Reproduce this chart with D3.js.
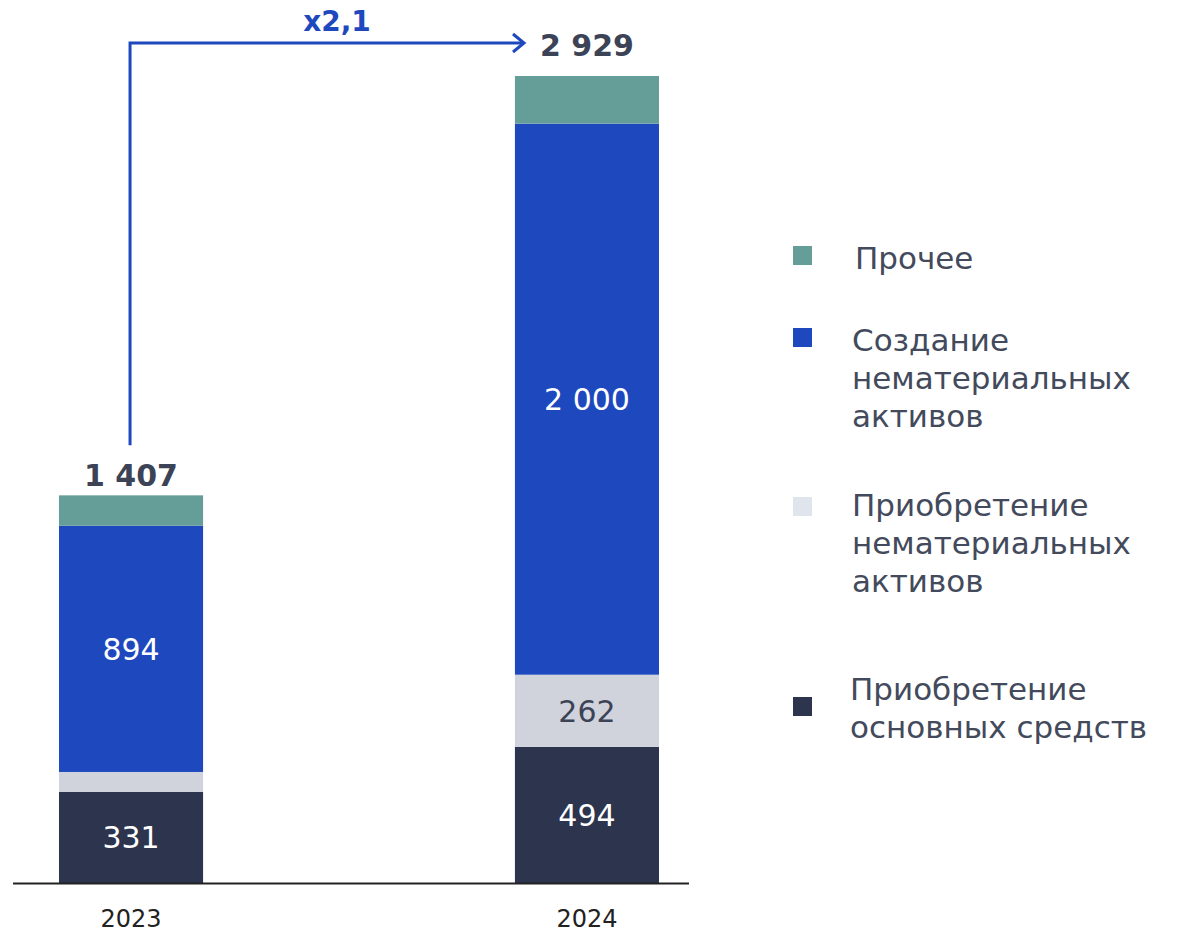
<!DOCTYPE html>
<html><head><meta charset="utf-8">
<script src="https://cdn.jsdelivr.net/npm/d3@7"></script>
<style>body{margin:0;background:#fff}svg{display:block}text{font-family:"DejaVu Sans",sans-serif}</style>
</head><body><svg id="c" width="1180" height="933"></svg>
<script>
const years = ["2023", "2024"];
const seriesNames = ["Приобретение основных средств", "Приобретение нематериальных активов", "Создание нематериальных активов", "Прочее"];
const fixedAssets = [331, 494];
const intangiblePurchase = [72, 262];
const intangibleCreation = [894, 2000];
const other = [110, 173];
const totals = [1407, 2929];
const shownLabels = [[true, true], [false, true], [true, true], [false, false]];
const growthLabel = "x2,1";
const legendLines = [["Прочее"], ["Создание", "нематериальных", "активов"], ["Приобретение", "нематериальных", "активов"], ["Приобретение", "основных средств"]];

const barColors = ["#2d344d", "#d0d3db", "#1e48be", "#659e99"];
const legendColors = ["#659e99", "#1e48be", "#e0e4ec", "#2d344d"];
const labelColors = ["#ffffff", "#3c4356", "#ffffff", "#ffffff"];

const svg = d3.select("#c");
const base = 883;
const x = d3.scaleBand().domain(years).range([59, 659]).paddingInner(0.684).paddingOuter(0);
const y = d3.scaleLinear().domain([0, d3.max(totals)]).range([base, 76]);

const rows = years.map((yr, i) => ({year: yr, s0: fixedAssets[i], s1: intangiblePurchase[i], s2: intangibleCreation[i], s3: other[i]}));
const stack = d3.stack().keys(["s0", "s1", "s2", "s3"])(rows);
const fmt = v => d3.format(",")(v).replace(/,/g, " ");

stack.forEach((layer, li) => {
  svg.append("g").selectAll("rect").data(layer).join("rect")
    .attr("x", d => x(d.data.year)).attr("width", x.bandwidth())
    .attr("y", d => y(d[1])).attr("height", d => y(d[0]) - y(d[1]))
    .attr("fill", barColors[li]);
  svg.append("g").selectAll("text").data(layer.filter((d, i) => shownLabels[li][i])).join("text")
    .attr("x", d => x(d.data.year) + x.bandwidth() / 2)
    .attr("y", d => (y(d[0]) + y(d[1])) / 2 + 11)
    .attr("text-anchor", "middle").attr("font-size", 30).attr("fill", labelColors[li])
    .text(d => fmt(d[1] - d[0]));
});

// baseline
svg.append("line").attr("x1", 13).attr("x2", 689).attr("y1", base + 0.5).attr("y2", base + 0.5)
  .attr("stroke", "#222").attr("stroke-width", 2);

// x axis labels
const ax = svg.append("g").attr("transform", `translate(0,${base})`)
  .call(d3.axisBottom(x).tickSize(0).tickPadding(27));
ax.select(".domain").remove();
ax.selectAll("text").attr("font-size", 24).attr("fill", "#222").attr("font-family", "'DejaVu Sans', sans-serif");

// totals
const arrowY = 43;
svg.append("text").attr("x", x(years[0]) + x.bandwidth() / 2).attr("y", y(totals[0]) - 9)
  .attr("text-anchor", "middle").attr("font-size", 30).attr("font-weight", 700).attr("fill", "#3c4356").text(fmt(totals[0]));
svg.append("text").attr("x", x(years[1]) + x.bandwidth() / 2).attr("y", arrowY + 13)
  .attr("text-anchor", "middle").attr("font-size", 30).attr("font-weight", 700).attr("fill", "#3c4356").text(fmt(totals[1]));

// arrow
const ax0 = x(years[0]) + x.bandwidth() / 2 - 1;
const ayStart = y(totals[0]) - 50;
svg.append("path").attr("d", `M${ax0},${ayStart}V${arrowY}H523`).attr("fill", "none")
  .attr("stroke", "#1e48be").attr("stroke-width", 3);
svg.append("path").attr("d", `M513,${arrowY - 9}L524,${arrowY}L513,${arrowY + 9}`).attr("fill", "none")
  .attr("stroke", "#1e48be").attr("stroke-width", 3);
svg.append("text").attr("x", 337).attr("y", 31).attr("text-anchor", "middle").attr("font-size", 28)
  .attr("font-weight", 700).attr("fill", "#1e48be").text(growthLabel);

// legend
const legTop = [246, 328, 497, 697];
const legText = [[269], [351, 389, 427], [516, 554, 592], [700, 738]];
const lg = svg.append("g");
legendLines.forEach((lines, i) => {
  lg.append("rect").attr("x", 793).attr("y", legTop[i]).attr("width", 19).attr("height", 19).attr("fill", legendColors[i]);
  lines.forEach((t, j) => {
    lg.append("text").attr("x", i === 0 ? 855 : (i === 3 ? 850 : 852)).attr("y", legText[i][j]).attr("font-size", 31)
      .attr("fill", "#434a5c").text(t);
  });
});
</script></body></html>
